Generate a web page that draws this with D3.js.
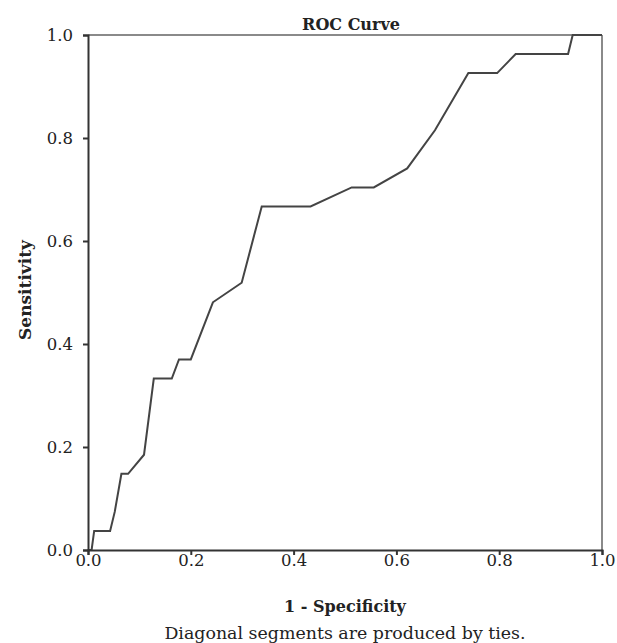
<!DOCTYPE html>
<html>
<head>
<meta charset="utf-8">
<script src="https://cdn.jsdelivr.net/npm/d3@7"></script>
<style>
  body { margin: 0; background: #fff; }
  svg { display: block; }
</style>
</head>
<body>
<div id="chart"></div>
<script>
// ROC curve points (1 - specificity, sensitivity)
var fpr = [0, 0.007, 0.012, 0.043, 0.052, 0.065, 0.078, 0.109, 0.128, 0.163, 0.177, 0.200,
           0.243, 0.299, 0.338, 0.433, 0.513, 0.556, 0.621, 0.675, 0.740, 0.796, 0.832,
           0.934, 0.943, 1.0];
var tpr = [0, 0, 0.037, 0.037, 0.074, 0.148, 0.148, 0.185, 0.333, 0.333, 0.370, 0.370,
           0.481, 0.519, 0.667, 0.667, 0.704, 0.704, 0.741, 0.815, 0.926, 0.926, 0.963,
           0.963, 1.0, 1.0];
var tickValues = [0, 0.2, 0.4, 0.6, 0.8, 1.0];

var width = 617, height = 643;
var margin = {top: 35, right: 15, bottom: 93, left: 88};
var w = width - margin.left - margin.right,
    h = height - margin.top - margin.bottom;

var points = fpr.map(function (d, i) { return [d, tpr[i]]; });

var svg = d3.select("#chart").append("svg")
        .attr("width", width)
        .attr("height", height);

var g = svg.append("g")
        .attr("transform", "translate(" + margin.left + "," + margin.top + ")");

var x = d3.scaleLinear().domain([0, 1]).range([0, w]);
var y = d3.scaleLinear().domain([0, 1]).range([h, 0]);

// top and right frame lines (lighter)
g.append("line")
        .attr("x1", x(0)).attr("x2", x(1))
        .attr("y1", y(1)).attr("y2", y(1))
        .attr("stroke", "#8a8a8a").attr("stroke-width", 2);
g.append("line")
        .attr("x1", x(1)).attr("x2", x(1))
        .attr("y1", y(1)).attr("y2", y(0))
        .attr("stroke", "#8a8a8a").attr("stroke-width", 2);

// curve
var line = d3.line()
        .x(function (d) { return x(d[0]); })
        .y(function (d) { return y(d[1]); });

g.append("path")
        .datum(points)
        .attr("d", line)
        .attr("fill", "none")
        .attr("stroke", "#444")
        .attr("stroke-width", 2)
        .attr("stroke-linejoin", "miter");

// y axis
var yAxis = d3.axisLeft(y)
        .tickValues(tickValues)
        .tickFormat(d3.format(".1f"))
        .tickSizeOuter(0)
        .tickSize(5)
        .tickPadding(10);
var y_g = g.append("g").call(yAxis);

// x axis
var xAxis = d3.axisBottom(x)
        .tickValues(tickValues)
        .tickFormat(d3.format(".1f"))
        .tickSizeOuter(0)
        .tickSize(5)
        .tickPadding(0);
var x_g = g.append("g")
        .attr("transform", "translate(0," + h + ")")
        .call(xAxis);

[y_g, x_g].forEach(function (a) {
    a.selectAll("path")
            .attr("stroke", "#333")
            .attr("stroke-width", 2);
    a.selectAll("line")
            .attr("stroke", "#333")
            .attr("stroke-width", 2);
    a.selectAll("text")
            .attr("fill", "#222")
            .style("font-family", "'DejaVu Serif', serif")
            .style("font-size", "16.5px");
});
x_g.selectAll("text").attr("y", 4).attr("dy", "0.71em");

// titles
svg.append("text")
        .attr("x", 351).attr("y", 30)
        .attr("text-anchor", "middle")
        .style("font-family", "'DejaVu Serif', serif")
        .style("font-weight", "bold")
        .style("font-size", "16px")
        .attr("fill", "#222")
        .text("ROC Curve");

svg.append("text")
        .attr("x", margin.left + w / 2).attr("y", 612)
        .attr("text-anchor", "middle")
        .style("font-family", "'DejaVu Serif', serif")
        .style("font-weight", "bold")
        .style("font-size", "16px")
        .attr("fill", "#222")
        .text("1 - Specificity");

svg.append("text")
        .attr("transform", "translate(31," + 290 + ") rotate(-90)")
        .attr("text-anchor", "middle")
        .style("font-family", "'DejaVu Serif', serif")
        .style("font-weight", "bold")
        .style("font-size", "17px")
        .attr("fill", "#222")
        .text("Sensitivity");

svg.append("text")
        .attr("x", margin.left + w / 2).attr("y", 639)
        .attr("text-anchor", "middle")
        .style("font-family", "'DejaVu Serif', serif")
        .style("font-size", "17.4px")
        .attr("fill", "#222")
        .text("Diagonal segments are produced by ties.");
</script>
</body>
</html>
